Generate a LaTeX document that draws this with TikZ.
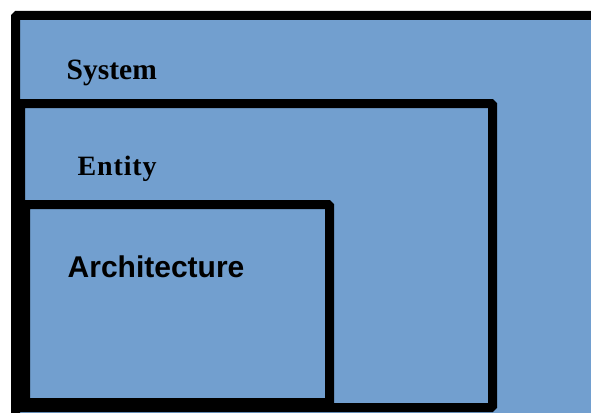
\documentclass[tikz,border=0pt]{standalone}
\usepackage{fontspec}
\setmainfont{Liberation Serif}
\newfontfamily\archfont{Liberation Sans}
\definecolor{layerblue}{HTML}{729FCF}

\tikzset{
  layer/.style={draw=black, line width=9pt, fill=layerblue, rounded corners=1.5pt},
  layertitle/.style={anchor=base west, inner sep=0pt, text=black}
}

\begin{document}
\begin{tikzpicture}[x=1pt,y=-1pt]
\useasboundingbox (0,0) rectangle (591,412);
\clip (0,0) rectangle (591,412);
\draw[layer] (15.5,15.5) rectangle (640,440);
\draw[layer] (20.5,103.5) rectangle (492.5,407.5);
\draw[layer] (25.5,204.5) rectangle (329.5,402.5);
\node[layertitle, font=\fontsize{29.5}{31}\selectfont\bfseries] (system) at (66.5,79.5) {System};
\node[layertitle, font=\fontsize{28}{30}\selectfont\bfseries\addfontfeature{LetterSpace=3}] (entity) at (77.5,175) {Entity};
\node[layertitle, font=\archfont\fontsize{30}{32}\selectfont\bfseries] (architecture) at (67.5,277.5) {Architecture};
\end{tikzpicture}
\end{document}
